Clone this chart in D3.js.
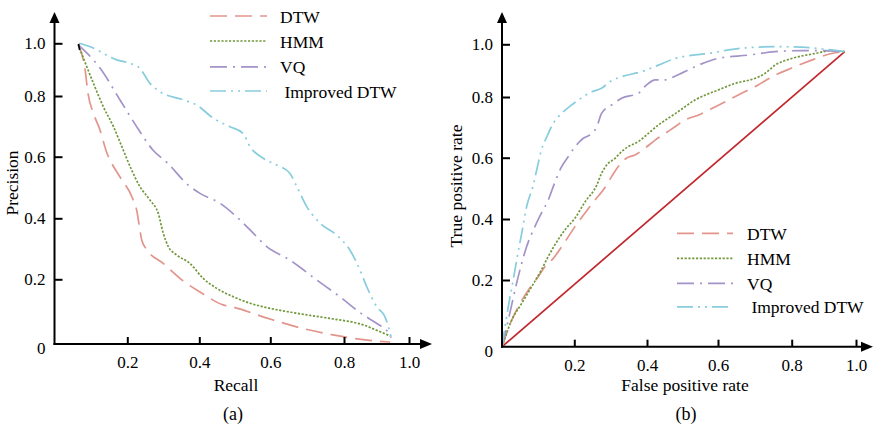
<!DOCTYPE html>
<html>
<head>
<meta charset="utf-8">
<script src="https://cdn.jsdelivr.net/npm/d3@7"></script>
<style>
  html, body { margin: 0; padding: 0; background: #fff; }
  svg { display: block; }
  text { font-family: "Liberation Serif", "Times New Roman", serif; fill: #000; }
</style>
</head>
<body>
<svg id="chart" width="873" height="428"></svg>
<script>
// ---------- data ----------
const seriesNames = ["DTW", "HMM", "VQ", "Improved DTW"];
const tickValues = [0, 0.2, 0.4, 0.6, 0.8, 1.0];
const xTickValues = [0.2, 0.4, 0.6, 0.8, 1.0];

// (a) Precision–Recall
const recallDTW = [0.065,0.084,0.092,0.107,0.125,0.144,0.157,0.18,0.213,0.227,0.235,0.24,0.255,0.299,0.355,0.402,0.467,0.495,0.591,0.681,0.77,0.871,0.942];
const precDTW   = [0.995,0.9,0.81,0.743,0.688,0.612,0.579,0.534,0.469,0.421,0.362,0.329,0.296,0.253,0.195,0.161,0.121,0.114,0.08,0.05,0.028,0.012,0.006];
const recallHMM = [0.065,0.107,0.134,0.162,0.185,0.212,0.235,0.263,0.286,0.300,0.314,0.337,0.374,0.411,0.449,0.496,0.543,0.580,0.672,0.762,0.859,0.911,0.942];
const precHMM   = [0.995,0.848,0.765,0.699,0.633,0.557,0.503,0.459,0.416,0.351,0.307,0.280,0.252,0.203,0.172,0.146,0.126,0.115,0.095,0.079,0.059,0.038,0.025];
const recallVQ  = [0.065,0.125,0.18,0.226,0.271,0.312,0.369,0.402,0.458,0.515,0.543,0.590,0.653,0.726,0.789,0.859,0.900,0.938,0.945];
const precVQ    = [0.995,0.906,0.787,0.699,0.622,0.579,0.508,0.481,0.449,0.394,0.362,0.307,0.263,0.198,0.146,0.090,0.064,0.033,0.02];
const recallIDTW = [0.068,0.098,0.171,0.208,0.235,0.263,0.291,0.356,0.393,0.439,0.486,0.523,0.543,0.580,0.617,0.653,0.672,0.699,0.735,0.780,0.818,0.849,0.870,0.901,0.926,0.937,0.947];
const precIDTW   = [1.0,0.987,0.937,0.924,0.905,0.848,0.816,0.787,0.770,0.727,0.699,0.677,0.633,0.595,0.573,0.546,0.503,0.438,0.384,0.345,0.296,0.231,0.177,0.115,0.084,0.053,0.012];

// (b) ROC
const fprDTW = [0,0.027,0.045,0.073,0.100,0.119,0.142,0.165,0.202,0.229,0.257,0.284,0.303,0.321,0.344,0.367,0.394,0.423,0.451,0.479,0.507,0.544,0.601,0.655,0.700,0.755,0.800,0.862,0.924,0.965];
const tprDTW = [0,0.08,0.12,0.17,0.211,0.244,0.271,0.309,0.375,0.419,0.462,0.502,0.539,0.571,0.599,0.609,0.631,0.658,0.680,0.702,0.724,0.740,0.773,0.808,0.839,0.883,0.910,0.940,0.965,0.972];
const fprHMM = [0,0.027,0.0545,0.082,0.109,0.128,0.146,0.174,0.202,0.229,0.262,0.275,0.289,0.312,0.330,0.348,0.376,0.404,0.432,0.460,0.488,0.535,0.601,0.647,0.701,0.728,0.755,0.800,0.872,0.924,0.965];
const tprHMM = [0,0.08,0.130,0.180,0.233,0.277,0.315,0.364,0.403,0.455,0.511,0.549,0.576,0.598,0.620,0.636,0.653,0.680,0.708,0.730,0.752,0.790,0.827,0.852,0.871,0.890,0.921,0.946,0.965,0.976,0.972];
const fprVQ = [0,0.0174,0.036,0.0545,0.068,0.091,0.109,0.128,0.146,0.165,0.183,0.202,0.225,0.243,0.262,0.275,0.303,0.330,0.376,0.399,0.423,0.451,0.479,0.535,0.601,0.683,0.755,0.831,0.904,0.965];
const tprVQ = [0,0.08,0.17,0.255,0.309,0.375,0.419,0.462,0.519,0.571,0.603,0.636,0.664,0.675,0.702,0.746,0.774,0.796,0.814,0.846,0.865,0.865,0.879,0.915,0.947,0.959,0.972,0.976,0.976,0.972];
const fprIDTW = [0,0.0083,0.0174,0.031,0.0407,0.0545,0.068,0.0866,0.096,0.109,0.124,0.142,0.156,0.193,0.211,0.248,0.275,0.298,0.330,0.385,0.432,0.479,0.575,0.664,0.755,0.831,0.904,0.965];
const tprIDTW = [0,0.06,0.12,0.2,0.266,0.353,0.44,0.511,0.56,0.625,0.669,0.713,0.735,0.774,0.790,0.820,0.833,0.858,0.877,0.896,0.921,0.946,0.966,0.985,0.991,0.989,0.981,0.972];
const fprRef = [0, 0.965];
const tprRef = [0, 0.972];

// ---------- styles ----------
const styles = {
  "DTW":          { color: "#e2958c", dash: "17,8" },
  "HMM":          { color: "#71973a", dash: "2.2,1.6" },
  "VQ":           { color: "#a493c8", dash: "17,6,2,6" },
  "Improved DTW": { color: "#87cddd", dash: "16,5,2,5,2,5" }
};

const svg = d3.select("#chart");
svg.append("rect").attr("width", 873).attr("height", 428).attr("fill", "#fff");

const zip = (a, b) => a.map((v, i) => [v, b[i]]);

function panel(cfg) {
  const g = svg.append("g");
  const x = d3.scaleLinear().domain(tickValues).range(cfg.xr);
  const y = d3.scaleLinear().domain(tickValues).range(cfg.yr);
  const x0 = x(0), y0 = y(0);

  // series
  const line = d3.line().x(d => x(d[0])).y(d => y(d[1])).curve(d3.curveMonotoneX);
  if (cfg.ref) {
    g.append("path").datum(zip(cfg.ref[0], cfg.ref[1]))
      .attr("d", d3.line().x(d => x(d[0])).y(d => y(d[1])))
      .attr("fill", "none").attr("stroke", "#c1272d").attr("stroke-width", 1.7);
  }
  cfg.series.forEach((s, i) => {
    const st = styles[seriesNames[i]];
    g.append("path").datum(zip(s[0], s[1]))
      .attr("d", line)
      .attr("fill", "none").attr("stroke", st.color)
      .attr("stroke-width", 1.7).attr("stroke-dasharray", st.dash);
  });

  // axes
  const yAxis = d3.axisLeft(y).tickValues(tickValues)
    .tickFormat(d => d === 0 ? "0" : d3.format(".1f")(d))
    .tickSizeInner(-8).tickSizeOuter(0).tickPadding(9);
  const ya = g.append("g").attr("transform", `translate(${x0},0)`).call(yAxis);
  const xAxis = d3.axisBottom(x).tickValues(xTickValues)
    .tickFormat(d3.format(".1f")).tickSizeInner(-7).tickSizeOuter(0).tickPadding(12);
  const xa = g.append("g").attr("transform", `translate(0,${y0})`).call(xAxis);
  [ya, xa].forEach(a => {
    a.select(".domain").remove();
    a.selectAll(".tick line").attr("stroke", "#000").attr("stroke-width", 2);
    a.selectAll(".tick text").style("font-family", "Liberation Serif").style("font-size", "17px").attr("fill", "#000");
  });
  ya.selectAll(".tick").filter(d => d === 0).select("line").remove();
  ya.selectAll(".tick").filter(d => d === 0).select("text").attr("dy", "0.55em");

  // axis lines with arrows
  g.append("line").attr("x1", x0).attr("y1", y0 + 1).attr("x2", x0).attr("y2", cfg.yTip + 8)
    .attr("stroke", "#000").attr("stroke-width", 2);
  g.append("path").attr("d", `M${x0},${cfg.yTip} L${x0 - 5},${cfg.yTip + 11} L${x0 + 5},${cfg.yTip + 11} Z`).attr("fill", "#000");
  g.append("line").attr("x1", x0 - 1).attr("y1", y0).attr("x2", cfg.xTip - 8).attr("y2", y0)
    .attr("stroke", "#000").attr("stroke-width", 2);
  g.append("path").attr("d", `M${cfg.xTip},${y0} L${cfg.xTip - 12},${y0 - 5} L${cfg.xTip - 12},${y0 + 5} Z`).attr("fill", "#000");

  // titles
  g.append("text").attr("x", cfg.xTitle[0]).attr("y", cfg.xTitle[1]).attr("text-anchor", "middle")
    .style("font-size", "17.5px").text(cfg.xLabel);
  g.append("text").attr("transform", `translate(${cfg.yTitle[0]},${cfg.yTitle[1]}) rotate(-90)`)
    .attr("text-anchor", "middle").style("font-size", "17.5px").text(cfg.yLabel);
  g.append("text").attr("x", cfg.sub[0]).attr("y", cfg.sub[1]).attr("text-anchor", "middle")
    .style("font-size", "18px").text(cfg.subLabel);

  // legend
  const lg = g.append("g");
  seriesNames.forEach((n, i) => {
    const st = styles[n];
    const ry = cfg.legend.y0 + i * cfg.legend.dy[i];
    lg.append("line").attr("x1", cfg.legend.x1).attr("x2", cfg.legend.x2).attr("y1", ry).attr("y2", ry)
      .attr("stroke", st.color).attr("stroke-width", 1.7).attr("stroke-dasharray", st.dash);
    lg.append("text").attr("x", cfg.legend.tx).attr("y", ry + 6.5)
      .style("font-size", "17.5px").style("white-space", "pre")
      .text(n === "Improved DTW" ? " " + n : n);
  });
  return { x, y, g };
}

const A = panel({
  xr: [54.5, 127.3, 199.3, 270.3, 344, 409],
  yr: [344, 279.3, 218.3, 156.7, 96, 43.3],
  yTip: 12, xTip: 432,
  series: [[recallDTW, precDTW], [recallHMM, precHMM], [recallVQ, precVQ], [recallIDTW, precIDTW]],
  xLabel: "Recall", yLabel: "Precision", subLabel: "(a)",
  xTitle: [236, 391], yTitle: [18, 183], sub: [233, 420],
  legend: { x1: 210, x2: 267, tx: 280, y0: 16, dy: [25, 25, 25.4, 25] }
});
// small black start mark
A.g.append("path").datum([[0.066, 0.998], [0.069, 0.975]])
  .attr("d", d3.line().x(d => A.x(d[0])).y(d => A.y(d[1])))
  .attr("stroke", "#000").attr("stroke-width", 1.6).attr("fill", "none");

panel({
  xr: [502, 574.3, 647, 718, 791.7, 856],
  yr: [346.7, 280, 219, 157.7, 97, 44.3],
  yTip: 12, xTip: 873,
  series: [[fprDTW, tprDTW], [fprHMM, tprHMM], [fprVQ, tprVQ], [fprIDTW, tprIDTW]],
  ref: [fprRef, tprRef],
  xLabel: "False positive rate", yLabel: "True positive rate", subLabel: "(b)",
  xTitle: [685, 391], yTitle: [462, 186], sub: [686, 420],
  legend: { x1: 677, x2: 733, tx: 747, y0: 233.3, dy: [25, 25, 25, 24.5] }
});
</script>
</body>
</html>
